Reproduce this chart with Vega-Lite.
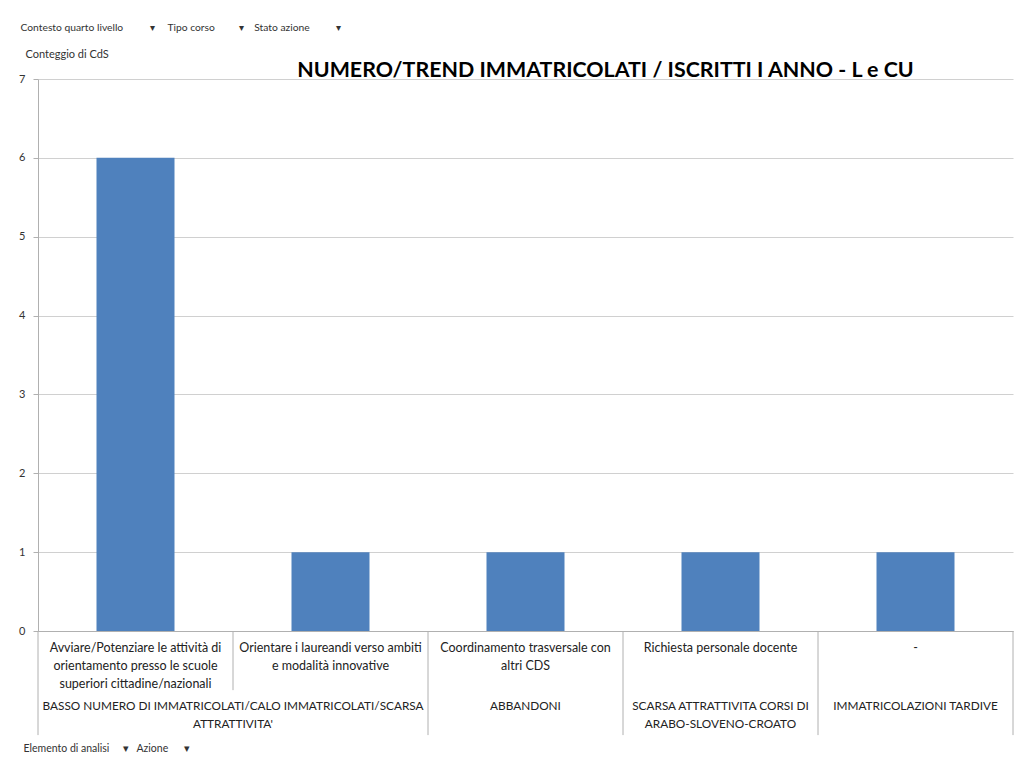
{
  "$schema": "https://vega.github.io/schema/vega-lite/v6.json",
  "width": 975,
  "height": 552,
  "autosize": "none",
  "padding": {"left": 38, "top": 79, "right": 1, "bottom": 127},
  "background": "white",
  "title": {
    "text": "NUMERO/TREND IMMATRICOLATI / ISCRITTI I ANNO - L e CU",
    "font": "Lato",
    "fontSize": 21.4,
    "fontWeight": "bold",
    "color": "#000000",
    "anchor": "middle",
    "dx": 80,
    "dy": 84,
    "baseline": "bottom"
  },
  "data": {
    "values": [
      {"action": "Avviare/Potenziare le attività di\norientamento presso le scuole\nsuperiori cittadine/nazionali", "group": "BASSO NUMERO DI  IMMATRICOLATI/CALO IMMATRICOLATI/SCARSA\nATTRATTIVITA'", "count": 6},
      {"action": "Orientare i laureandi verso ambiti\ne modalità innovative", "group": "BASSO NUMERO DI  IMMATRICOLATI/CALO IMMATRICOLATI/SCARSA\nATTRATTIVITA'", "count": 1},
      {"action": "Coordinamento trasversale con\naltri CDS", "group": "ABBANDONI", "count": 1},
      {"action": "Richiesta personale docente", "group": "SCARSA ATTRATTIVITA CORSI DI\nARABO-SLOVENO-CROATO", "count": 1},
      {"action": "-", "group": "IMMATRICOLAZIONI TARDIVE", "count": 1}
    ]
  },
  "resolve": {"axis": {"x": "independent"}},
  "layer": [
    {
      "mark": {"type": "bar", "color": "#4f81bd", "width": {"band": 0.4}},
      "encoding": {
        "x": {
          "field": "action", "type": "nominal", "sort": null,
          "scale": {"paddingInner": 0, "paddingOuter": 0},
          "axis": {
            "orient": "bottom", "labels": false, "ticks": false, "domain": true,
            "domainColor": "#b0b0b0", "grid": false,
            "title": "Elemento di analisi\u00a0\u00a0\u00a0\u00a0\u00a0▾\u00a0\u00a0\u00a0Azione\u00a0\u00a0\u00a0\u00a0\u00a0\u00a0▾",
            "titleFont": "Lato", "titleFontSize": 10.5, "titleFontWeight": "normal",
            "titleColor": "#333333", "titleAlign": "left", "titleBaseline": "middle",
            "titleX": -15, "titleY": 117
          }
        },
        "y": {
          "field": "count", "type": "quantitative",
          "scale": {"domain": [0, 7], "nice": false},
          "axis": {
            "values": [0, 1, 2, 3, 4, 5, 6, 7], "format": "d",
            "grid": true, "gridColor": "#d0d0d0",
            "domainColor": "#b0b0b0", "tickColor": "#b0b0b0", "tickSize": 5,
            "labelFont": "Lato", "labelFontSize": 11, "labelColor": "#333333", "labelPadding": 8,
            "title": "Conteggio di CdS",
            "titleFont": "Lato", "titleFontSize": 11, "titleFontWeight": "normal",
            "titleColor": "#333333", "titleAngle": 0, "titleAlign": "left", "titleBaseline": "middle",
            "titleX": -13, "titleY": -25
          }
        }
      }
    },
    {
      "mark": {"type": "text", "baseline": "top", "align": "center", "lineBreak": "\n", "lineHeight": 18, "dy": 11, "font": "Lato", "fontSize": 12.5, "color": "#222222"},
      "encoding": {
        "x": {
          "field": "action", "type": "nominal", "sort": null,
          "axis": {
            "orient": "top", "labels": false, "ticks": false, "domain": false, "grid": false,
            "title": "Contesto quarto livello\u00a0\u00a0\u00a0\u00a0\u00a0\u00a0\u00a0\u00a0\u00a0\u00a0▾\u00a0\u00a0\u00a0\u00a0\u00a0Tipo corso\u00a0\u00a0\u00a0\u00a0\u00a0\u00a0\u00a0\u00a0\u00a0▾\u00a0\u00a0\u00a0\u00a0Stato azione\u00a0\u00a0\u00a0\u00a0\u00a0\u00a0\u00a0\u00a0\u00a0\u00a0▾",
            "titleFont": "Lato", "titleFontSize": 10.3, "titleFontWeight": "normal",
            "titleColor": "#333333", "titleAlign": "left", "titleBaseline": "middle",
            "titleX": -18, "titleY": -52
          }
        },
        "y": {"datum": 0},
        "text": {"field": "action"}
      }
    },
    {
      "transform": [{"filter": "test(/^Orientare/, datum.action)"}],
      "mark": {"type": "text", "baseline": "top", "align": "center", "lineBreak": "\n", "lineHeight": 18, "dy": 70, "font": "Lato", "fontSize": 11.8, "color": "#222222"},
      "encoding": {
        "x": {"field": "action", "type": "nominal", "sort": null, "bandPosition": 0, "axis": null},
        "y": {"datum": 0},
        "text": {"field": "group"}
      }
    },
    {
      "transform": [{"filter": "!test(/^BASSO/, datum.group)"}],
      "mark": {"type": "text", "baseline": "top", "align": "center", "lineBreak": "\n", "lineHeight": 18, "dy": 70, "font": "Lato", "fontSize": 11.8, "color": "#222222"},
      "encoding": {
        "x": {"field": "action", "type": "nominal", "sort": null, "bandPosition": 0.5, "axis": null},
        "y": {"datum": 0},
        "text": {"field": "group"}
      }
    },
    {
      "transform": [{"filter": "!test(/^Orientare/, datum.action)"}],
      "mark": {"type": "rule", "color": "#b0b0b0", "strokeWidth": 1},
      "encoding": {
        "x": {"field": "action", "type": "nominal", "sort": null, "bandPosition": 0, "axis": null},
        "y": {"datum": 0},
        "y2": {"datum": -1.32}
      }
    },
    {
      "transform": [{"filter": "test(/^Orientare/, datum.action)"}],
      "mark": {"type": "rule", "color": "#b0b0b0", "strokeWidth": 1},
      "encoding": {
        "x": {"field": "action", "type": "nominal", "sort": null, "bandPosition": 0, "axis": null},
        "y": {"datum": 0},
        "y2": {"datum": -0.75}
      }
    },
    {
      "transform": [{"filter": "datum.action == '-'"}],
      "mark": {"type": "rule", "color": "#b0b0b0", "strokeWidth": 1},
      "encoding": {
        "x": {"field": "action", "type": "nominal", "sort": null, "bandPosition": 1, "axis": null},
        "y": {"datum": 0},
        "y2": {"datum": -1.32}
      }
    }
  ],
  "config": {"view": {"stroke": null}}
}
